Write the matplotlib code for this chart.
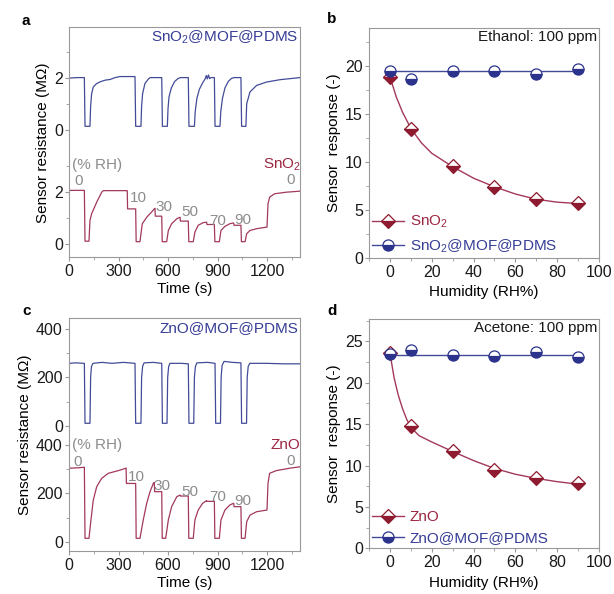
import matplotlib

matplotlib.use("Agg")
import matplotlib.pyplot as plt
from matplotlib.lines import Line2D
from matplotlib.ticker import MultipleLocator

# ---- panel a: resistance transients (MOhm) ----
sn_mof_t = [0, 50, 93, 97, 127, 131, 137, 147, 167, 190, 218, 250, 279, 309, 350, 400,
            404, 436, 440, 446, 460, 480, 492, 530, 562,
            566, 596, 600, 606, 620, 640, 660, 675, 700, 723,
            727, 760, 765, 775, 790, 810, 825, 832, 838, 845, 852, 860, 881,
            885, 915, 920, 930, 945, 965, 985, 1000, 1042,
            1046, 1072, 1077, 1097, 1137, 1198, 1279, 1340, 1400]
sn_mof_r = [1.98, 2.0, 2.0, 0.13, 0.13, 0.9, 1.38, 1.64, 1.77, 1.84, 1.9, 1.93, 2.0, 2.04, 2.04, 2.04,
            0.13, 0.13, 0.9, 1.38, 1.77, 1.94, 2.0, 2.0, 2.0,
            0.13, 0.13, 0.8, 1.26, 1.6, 1.85, 1.96, 2.0, 2.0, 2.0,
            0.13, 0.13, 0.7, 1.2, 1.55, 1.8, 1.95, 2.08, 1.95, 2.1, 1.96, 2.0, 2.0,
            0.13, 0.13, 0.7, 1.2, 1.6, 1.85, 1.97, 2.0, 2.0,
            0.13, 0.13, 1.0, 1.45, 1.7, 1.83, 1.92, 1.96, 2.0]

sn_t = [0, 93, 97, 121, 127, 137, 168, 198, 208, 353, 355, 404,
        407, 430, 444, 471, 501, 517, 521, 523, 562,
        565, 592, 602, 622, 653, 673, 675, 723,
        726, 753, 763, 783, 813, 834, 836, 881,
        884, 911, 921, 945, 975, 998, 1000, 1042,
        1045, 1067, 1077, 1097, 1137, 1200, 1206, 1216, 1246, 1316, 1400]
sn_r = [2.07, 2.07, 0.12, 0.12, 0.92, 1.17, 1.62, 2.0, 2.06, 2.06, 1.36, 1.36,
        0.1, 0.1, 0.79, 1.04, 1.24, 1.36, 1.38, 1.08, 1.08,
        0.1, 0.1, 0.53, 0.79, 0.98, 1.04, 0.89, 0.89,
        0.1, 0.1, 0.47, 0.73, 0.83, 0.85, 0.76, 0.76,
        0.1, 0.1, 0.53, 0.69, 0.79, 0.82, 0.73, 0.73,
        0.1, 0.1, 0.41, 0.53, 0.6, 0.66, 1.55, 1.81, 1.94, 2.0, 2.04]

# ---- panel c: resistance transients (MOhm) ----
zn_mof_t = [0, 40, 93, 97, 127, 131, 136, 145, 200, 260, 330, 400,
            404, 436, 440, 446, 455, 510, 562,
            566, 594, 598, 604, 612, 680, 723,
            727, 756, 760, 766, 775, 840, 885,
            889, 918, 922, 928, 940, 990, 1042,
            1046, 1076, 1080, 1086, 1096, 1200, 1300, 1400]
zn_mof_r = [258, 260, 258, 10, 10, 200, 245, 258, 262, 258, 262, 258,
            10, 10, 200, 245, 260, 262, 258,
            10, 10, 200, 245, 258, 258, 256,
            10, 10, 200, 245, 260, 262, 258,
            10, 10, 200, 250, 266, 262, 260,
            10, 10, 200, 245, 258, 258, 256, 256]

zn_t = [0, 60, 93, 97, 121, 133, 147, 168, 198, 238, 299, 340, 346, 348, 404,
        407, 430, 450, 471, 491, 511, 517, 519, 562,
        565, 586, 602, 622, 653, 673, 675, 723,
        726, 753, 763, 783, 810, 834, 836, 881,
        884, 911, 921, 945, 975, 998, 1000, 1042,
        1045, 1067, 1077, 1097, 1137, 1200, 1206, 1216, 1256, 1337, 1400]
zn_r = [304, 306, 308, 14, 14, 90, 172, 228, 262, 283, 294, 303, 305, 241, 241,
        14, 14, 90, 159, 207, 241, 245, 207, 207,
        14, 14, 90, 145, 186, 193, 189, 189,
        14, 14, 90, 131, 159, 170, 167, 167,
        14, 14, 90, 131, 152, 159, 145, 145,
        14, 14, 83, 110, 124, 131, 241, 283, 294, 304, 310]

rh_labels = ["0", "10", "30", "50", "70", "90", "0"]

# ---- panels b, d: sensor response vs humidity ----
humidity = [0, 10, 30, 50, 70, 90]
eth_sno2 = [18.9, 13.4, 9.6, 7.4, 6.1, 5.7]
eth_mof = [19.5, 18.7, 19.5, 19.5, 19.2, 19.7]
eth_mof_mean = 19.45
eth_fit_x = [0, 3, 6, 10, 15, 20, 30, 40, 50, 60, 70, 80, 90]
eth_fit_y = [18.9, 16.8, 15.2, 13.5, 12.0, 10.9, 9.5, 8.3, 7.4, 6.65, 6.1, 5.8, 5.65]

ace_zno = [23.6, 14.8, 11.8, 9.5, 8.5, 7.9]
ace_mof = [23.5, 24.0, 23.3, 23.2, 23.7, 23.1]
ace_mof_mean = 23.4
ace_fit_x = [0, 2, 4, 6, 8, 10, 14, 20, 30, 40, 50, 60, 70, 80, 90]
ace_fit_y = [23.6, 20.6, 18.5, 16.9, 15.6, 14.6, 13.6, 12.85, 11.7, 10.6, 9.65, 8.95, 8.45, 8.05, 7.75]

BLUE_LINE = "#434b98"
BLUE_TEXT = "#363d95"
BLUE_MARK = "#2b338c"
RED_LINE = "#a3395a"
RED_TEXT = "#9c2640"
RED_MARK = "#8e1b2f"
GRAY_TEXT = "#8c8c8c"
SPINE = "#999999"

plt.rcParams.update(
    {
        "font.family": ["Liberation Sans", "DejaVu Sans"],
        "font.size": 11,
        "xtick.labelsize": 11.5,
        "ytick.labelsize": 11.5,
        "mathtext.fontset": "custom",
        "mathtext.rm": "Liberation Sans",
        "mathtext.default": "regular",
        "axes.edgecolor": SPINE,
        "axes.linewidth": 0.8,
        "xtick.color": SPINE,
        "ytick.color": SPINE,
        "xtick.labelcolor": "#1a1a1a",
        "ytick.labelcolor": "#1a1a1a",
        "xtick.major.size": 3,
        "ytick.major.size": 3,
        "xtick.minor.size": 2,
        "ytick.minor.size": 2,
        "xtick.major.pad": 2,
        "ytick.major.pad": 1.5,
    }
)

fig = plt.figure(figsize=(6.14, 5.94), dpi=100)
ax_a = fig.add_axes([0.1124, 0.5668, 0.3762, 0.3872])
ax_b = fig.add_axes([0.601, 0.5661, 0.3746, 0.3872])
ax_c = fig.add_axes([0.1124, 0.0724, 0.3762, 0.3928])
ax_d = fig.add_axes([0.601, 0.0769, 0.3746, 0.386])


def style_time_axis(ax):
    ax.set_xlim(0, 1400)
    ax.set_xticks([0, 300, 600, 900, 1200])
    ax.xaxis.set_minor_locator(MultipleLocator(150))
    ax.set_xlabel("Time (s)", labelpad=2)
    ax.set_ylabel("Sensor resistance (M\u03a9)", labelpad=3)


def rh_annotations(ax, xs, ys, rh_y, name, name_xy, top_name, top_xy):
    ax.text(18, rh_y, "(% RH)", color=GRAY_TEXT, ha="left", va="center",
            fontsize=11)
    for lab, x, y in zip(rh_labels, xs, ys):
        ax.text(x, y, lab, color=GRAY_TEXT, ha="center", va="center", fontsize=11)
    ax.text(name_xy[0], name_xy[1], name, color=RED_TEXT, ha="right", va="center",
            fontsize=11, clip_on=False)
    ax.text(top_xy[0], top_xy[1], top_name, color=BLUE_TEXT, ha="right",
            va="center", fontsize=11)


# panel a
off_a = 4.4
ax_a.plot(sn_mof_t, [r + off_a for r in sn_mof_r], color=BLUE_LINE, lw=0.9)
ax_a.plot(sn_t, sn_r, color=RED_LINE, lw=0.9)
ax_a.set_ylim(-0.5, 8.33)
ax_a.set_yticks([0, 2, off_a, off_a + 2])
ax_a.set_yticklabels(["0", "2", "0", "2"])
ax_a.set_yticks([1, 3, off_a + 1, off_a + 3], minor=True)
style_time_axis(ax_a)
rh_annotations(
    ax_a,
    [61, 421, 573, 733, 900, 1052, 1345],
    [2.42, 1.79, 1.44, 1.23, 0.88, 0.92, 2.46],
    3.04,
    r"SnO$_2$", (1404, 3.04),
    r"SnO$_2$@MOF@PDMS", (1390, 7.95),
)

# panel c
off_c = 480
ax_c.plot(zn_mof_t, [r + off_c for r in zn_mof_r], color=BLUE_LINE, lw=0.9)
ax_c.plot(zn_t, zn_r, color=RED_LINE, lw=0.9)
ax_c.set_ylim(-38.5, 927)
ax_c.set_yticks([0, 200, 400, off_c, off_c + 200, off_c + 400])
ax_c.set_yticklabels(["0", "200", "400", "0", "200", "400"])
ax_c.set_yticks([100, 300, off_c + 100, off_c + 300], minor=True)
style_time_axis(ax_c)
rh_annotations(
    ax_c,
    [55, 409, 561, 733, 900, 1052, 1345],
    [330, 266, 230, 204, 185, 168, 334],
    400,
    "ZnO", (1400, 400),
    "ZnO@MOF@PDMS", (1390, 883),
)


def response_panel(ax, bare, mof, mof_mean, fit_x, fit_y, ylim, bare_name,
                   mof_name, gas_text):
    ax.plot(fit_x, fit_y, color=RED_LINE, lw=1.0, zorder=2)
    ax.plot([humidity[0], humidity[-1]], [mof_mean, mof_mean], color=BLUE_LINE,
            lw=1.0, zorder=2)
    ax.plot(humidity, bare, ls="none", marker="D", ms=6.8, fillstyle="bottom",
            color=RED_MARK, markerfacecoloralt="white", mec=RED_MARK, mew=0.9,
            zorder=3)
    ax.plot(humidity, mof, ls="none", marker="o", ms=8, fillstyle="bottom",
            color=BLUE_MARK, markerfacecoloralt="white", mec=BLUE_MARK, mew=0.9,
            zorder=3)
    ax.set_xlim(-10, 100)
    ax.set_ylim(*ylim)
    ax.set_xticks([0, 20, 40, 60, 80, 100])
    ax.xaxis.set_minor_locator(MultipleLocator(10))
    ax.yaxis.set_major_locator(MultipleLocator(5))
    ax.yaxis.set_minor_locator(MultipleLocator(2.5))
    ax.set_xlabel("Humidity (RH%)", labelpad=4)
    ax.set_ylabel("Sensor  response (-)", labelpad=3)
    ax.text(0.991, 0.96, gas_text, transform=ax.transAxes, ha="right",
            va="center", fontsize=11, color="#1a1a1a")
    handles = [
        Line2D([], [], color=RED_LINE, lw=1.0, marker="D", ms=6.8,
               fillstyle="bottom", markerfacecoloralt="white", mfc=RED_MARK,
               mec=RED_MARK, mew=0.9),
        Line2D([], [], color=BLUE_LINE, lw=1.0, marker="o", ms=8,
               fillstyle="bottom", markerfacecoloralt="white", mfc=BLUE_MARK,
               mec=BLUE_MARK, mew=0.9),
    ]
    leg = ax.legend(handles, [bare_name, mof_name], loc="lower left",
                    frameon=False, fontsize=11, handlelength=2.1,
                    handletextpad=0.35, labelspacing=0.45, borderaxespad=0.05,
                    borderpad=0.15)
    leg.get_texts()[0].set_color(RED_TEXT)
    leg.get_texts()[1].set_color(BLUE_TEXT)


response_panel(ax_b, eth_sno2, eth_mof, eth_mof_mean, eth_fit_x, eth_fit_y,
               (0, 24), r"SnO$_2$", r"SnO$_2$@MOF@PDMS", "Ethanol: 100 ppm")
response_panel(ax_d, ace_zno, ace_mof, ace_mof_mean, ace_fit_x, ace_fit_y,
               (0, 27.7), "ZnO", "ZnO@MOF@PDMS", "Acetone: 100 ppm")

for lab, x, y in [("a", 22, 21), ("b", 327, 19), ("c", 22, 311), ("d", 327, 311)]:
    fig.text(x / 614, 1 - y / 594, lab, fontsize=11, fontweight="bold",
             ha="left", va="center")

fig.savefig("out.png", dpi=100)
